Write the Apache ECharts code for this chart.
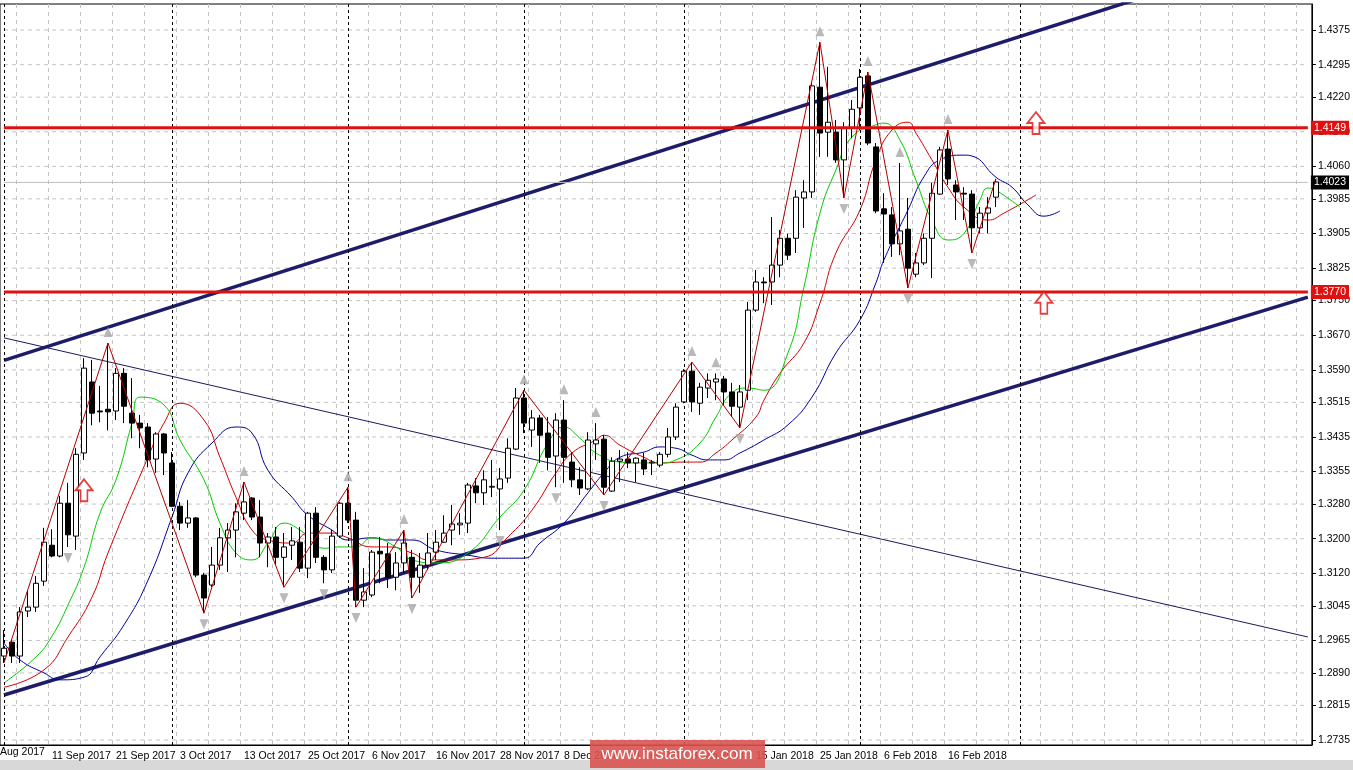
<!DOCTYPE html>
<html><head><meta charset="utf-8">
<script src="https://cdn.jsdelivr.net/npm/echarts@6/dist/echarts.min.js"></script>
<style>html,body{margin:0;padding:0;background:#fff}#c{width:1353px;height:770px}</style>
</head><body><div id="c"></div>
<script>
// ---- categories: trading days (31 Aug 2017 onward, 25 Dec / 1 Jan closed) ----
const MONTHS = ['Jan','Feb','Mar','Apr','May','Jun','Jul','Aug','Sep','Oct','Nov','Dec'];
const closedDays = ['2017-12-25','2018-01-01'];
const firstDay = '2017-08-31';
const slotCount = 164;
const categories = [];
(function(){const d=new Date(firstDay+'T00:00:00Z');while(categories.length<slotCount){const w=d.getUTCDay();const iso=d.toISOString().slice(0,10);if(w!==0&&w!==6&&closedDays.indexOf(iso)<0){categories.push(d.getUTCDate()+' '+MONTHS[d.getUTCMonth()]+' '+d.getUTCFullYear());}d.setUTCDate(d.getUTCDate()+1);}})();

// ---- daily candles [open, close, low, high] ----
const candles = [
[1.2929,1.2947,1.2913,1.2989],[1.2961,1.2929,1.2913,1.2966],[1.2929,1.3031,1.2913,1.3042],[1.3033,1.3042,1.3019,1.3081],
[1.3042,1.3097,1.3031,1.3114],[1.3102,1.3192,1.3091,1.3225],[1.3185,1.3160,1.3157,1.3222],[1.3160,1.3282,1.3157,1.3299],
[1.3282,1.3209,1.3181,1.3329],[1.3206,1.3395,1.3174,1.3409],[1.3398,1.3594,1.3382,1.3617],[1.3562,1.3490,1.3462,1.3613],
[1.3495,1.3493,1.3469,1.3553],[1.3499,1.3493,1.3450,1.3652],[1.3495,1.3582,1.3474,1.3594],[1.3582,1.3506,1.3467,1.3594],
[1.3490,1.3467,1.3432,1.3571],[1.3467,1.3456,1.3409,1.3486],[1.3458,1.3382,1.3365,1.3467],[1.3384,1.3442,1.3352,1.3446],
[1.3442,1.3398,1.3347,1.3444],[1.3375,1.3275,1.3273,1.3400],[1.3275,1.3236,1.3220,1.3285],[1.3236,1.3248,1.3225,1.3289],
[1.3248,1.3116,1.3111,1.3250],[1.3116,1.3063,1.3028,1.3121],[1.3093,1.3139,1.3088,1.3181],[1.3139,1.3202,1.3128,1.3225],
[1.3202,1.3220,1.3123,1.3236],[1.3220,1.3262,1.3157,1.3282],[1.3259,1.3285,1.3243,1.3331],[1.3294,1.3250,1.3243,1.3296],
[1.3250,1.3190,1.3157,1.3289],[1.3190,1.3204,1.3134,1.3213],[1.3204,1.3157,1.3139,1.3227],[1.3157,1.3181,1.3088,1.3213],
[1.3185,1.3195,1.3151,1.3227],[1.3192,1.3132,1.3123,1.3227],[1.3132,1.3259,1.3109,1.3262],[1.3259,1.3157,1.3144,1.3273],
[1.3157,1.3128,1.3097,1.3162],[1.3128,1.3206,1.3121,1.3220],[1.3206,1.3282,1.3202,1.3285],[1.3282,1.3243,1.3236,1.3319],
[1.3243,1.3058,1.3042,1.3262],[1.3058,1.3077,1.3042,1.3132],[1.3070,1.3169,1.3065,1.3174],[1.3171,1.3165,1.3097,1.3204],
[1.3165,1.3111,1.3086,1.3190],[1.3111,1.3144,1.3081,1.3169],[1.3144,1.3190,1.3121,1.3220],[1.3157,1.3111,1.3063,1.3174],
[1.3111,1.3139,1.3075,1.3167],[1.3139,1.3167,1.3128,1.3213],[1.3169,1.3192,1.3151,1.3220],[1.3192,1.3213,1.3190,1.3254],
[1.3220,1.3234,1.3185,1.3278],[1.3232,1.3236,1.3209,1.3259],[1.3236,1.3324,1.3213,1.3329],[1.3322,1.3306,1.3282,1.3340],
[1.3306,1.3336,1.3278,1.3358],[1.3319,1.3321,1.3296,1.3382],[1.3315,1.3338,1.3220,1.3363],[1.3340,1.3409,1.3329,1.3432],
[1.3407,1.3525,1.3405,1.3548],[1.3525,1.3467,1.3444,1.3543],[1.3451,1.3479,1.3412,1.3497],[1.3479,1.3439,1.3375,1.3486],
[1.3444,1.3388,1.3358,1.3481],[1.3391,1.3474,1.3319,1.3490],[1.3474,1.3388,1.3329,1.3520],[1.3377,1.3336,1.3319,1.3400],
[1.3336,1.3317,1.3301,1.3365],[1.3315,1.3428,1.3312,1.3446],[1.3419,1.3428,1.3382,1.3467],[1.3430,1.3319,1.3301,1.3439],
[1.3310,1.3379,1.3308,1.3388],[1.3379,1.3384,1.3331,1.3405],[1.3384,1.3375,1.3363,1.3400],[1.3375,1.3386,1.3331,1.3388],
[1.3382,1.3361,1.3347,1.3398],[1.3375,1.3377,1.3347,1.3382],[1.3370,1.3395,1.3365,1.3400],[1.3395,1.3435,1.3388,1.3456],
[1.3435,1.3504,1.3428,1.3513],[1.3516,1.3587,1.3513,1.3592],[1.3587,1.3516,1.3493,1.3608],[1.3513,1.3550,1.3486,1.3560],
[1.3548,1.3566,1.3525,1.3582],[1.3562,1.3569,1.3520,1.3582],[1.3569,1.3539,1.3509,1.3576],[1.3539,1.3506,1.3481,1.3560],
[1.3504,1.3539,1.3456,1.3555],[1.3543,1.3728,1.3520,1.3747],[1.3728,1.3793,1.3724,1.3821],[1.3793,1.3791,1.3744,1.3804],
[1.3793,1.3832,1.3740,1.3943],[1.3832,1.3894,1.3804,1.3913],[1.3894,1.3855,1.3844,1.3905],[1.3894,1.3989,1.3860,1.4005],
[1.3987,1.4001,1.3918,1.4028],[1.4001,1.4246,1.3987,1.4255],[1.4243,1.4137,1.4082,1.4347],[1.4139,1.4162,1.4082,1.4290],
[1.4139,1.4075,1.4068,1.4167],[1.4075,1.4149,1.3987,1.4162],[1.4149,1.4192,1.4125,1.4213],[1.4195,1.4266,1.4144,1.4285],
[1.4269,1.4114,1.4109,1.4278],[1.4105,1.3957,1.3952,1.4114],[1.3962,1.3950,1.3837,1.3998],[1.3948,1.3881,1.3851,1.3966],
[1.3881,1.3911,1.3855,1.4068],[1.3915,1.3825,1.3779,1.3987],[1.3811,1.3837,1.3804,1.3860],[1.3837,1.3894,1.3832,1.3905],
[1.3894,1.3998,1.3802,1.4022],[1.3996,1.4098,1.3994,1.4105],[1.4100,1.4031,1.4017,1.4144],[1.4017,1.4001,1.3936,1.4028],
[1.3998,1.3996,1.3936,1.4012],[1.3996,1.3918,1.3860,1.4005],[1.3918,1.3952,1.3905,1.3966],[1.3952,1.3964,1.3905,1.3989],
[1.3989,1.4024,1.3966,1.4031]
];

// ---- Alligator lines [bar index, price] ----
const lipsGreen = [[0,1.2867],[4,1.2927],[6,1.2975],[8,1.3047],[10,1.3134],[12,1.3259],[14,1.3336],[16,1.3467],[17,1.3527],[20,1.3509],[22,1.3428],[25,1.3336],[27,1.3236],[29,1.3167],[31,1.3151],[33,1.3190],[35,1.3236],[37,1.3220],[40,1.3178],[42,1.3181],[44,1.3181],[46,1.3202],[49,1.3181],[51,1.3151],[54,1.3144],[58,1.3167],[62,1.3250],[65,1.3312],[68,1.3421],[70,1.3458],[72,1.3432],[74,1.3398],[77,1.3377],[79,1.3375],[82,1.3375],[84,1.3382],[87,1.3421],[89,1.3481],[91,1.3537],[93,1.3548],[95,1.3543],[98,1.3629],[100,1.3781],[102,1.3952],[104,1.4052],[106,1.4128],[109,1.4156],[110,1.4160],[112,1.4121],[114,1.4028],[116,1.3936],[118,1.3890],[120,1.3905],[122,1.3982],[123,1.4010],[124,1.4005],[127,1.3966]];
const teethRed = [[0,1.2857],[5,1.2897],[8,1.2973],[11,1.3065],[13,1.3167],[18,1.3388],[20,1.3467],[22,1.3513],[25,1.3474],[27,1.3388],[29,1.3296],[31,1.3220],[33,1.3197],[36,1.3190],[38,1.3213],[41,1.3213],[43,1.3202],[46,1.3181],[48,1.3181],[51,1.3167],[53,1.3151],[56,1.3151],[60,1.3157],[63,1.3204],[66,1.3266],[69,1.3352],[71,1.3398],[74,1.3428],[75,1.3439],[77,1.3416],[80,1.3388],[82,1.3375],[85,1.3377],[87,1.3377],[89,1.3398],[91,1.3428],[94,1.3481],[95,1.3520],[97,1.3582],[100,1.3652],[102,1.3744],[104,1.3860],[107,1.3959],[109,1.4075],[111,1.4144],[113,1.4162],[114,1.4137],[116,1.4075],[118,1.4012],[120,1.3966],[123,1.3936],[125,1.3952],[129,1.3994]];
const jawBlue = [[0,1.2959],[2,1.2920],[5,1.2890],[7,1.2874],[10,1.2880],[12,1.2927],[15,1.3001],[18,1.3104],[21,1.3250],[23,1.3352],[26,1.3421],[29,1.3458],[31,1.3444],[33,1.3358],[36,1.3296],[38,1.3254],[41,1.3220],[43,1.3197],[46,1.3202],[48,1.3197],[51,1.3197],[54,1.3174],[58,1.3162],[61,1.3155],[65,1.3155],[67,1.3190],[70,1.3236],[73,1.3306],[75,1.3352],[77,1.3388],[80,1.3400],[82,1.3412],[84,1.3409],[86,1.3393],[88,1.3382],[90,1.3382],[92,1.3398],[95,1.3428],[98,1.3463],[101,1.3527],[104,1.3629],[107,1.3705],[109,1.3791],[110,1.3844],[113,1.3959],[115,1.4036],[117,1.4075],[120,1.4086],[121,1.4084],[124,1.4035],[126,1.4012],[128,1.3971],[130,1.3945],[132,1.3957]];

// ---- ZigZag pivots ----
const zigzag = [[0,1.2913],[13,1.3652],[25,1.3028],[30,1.3331],[35,1.3088],[43,1.3319],[44,1.3042],[50,1.3220],[51,1.3063],[65,1.3543],[75,1.3301],[86,1.3608],[92,1.3456],[102,1.4347],[105,1.3987],[108,1.4278],[113,1.3779],[118,1.4144],[121,1.3860],[124,1.4031]];

// ---- fractals ----
const fractalUp = [13,30,43,50,65,70,74,86,89,102,108,112,118];
const fractalDown = [8,25,35,40,44,51,62,69,75,92,105,113,121];

// ---- trend lines [bar index, price] ----
const channelUpper = [[0,1.3612],[163,1.4572]];
const channelLower = [[0,1.2839],[163,1.3758]];
const fallingLine = [[0,1.3664],[163,1.2973]];

// ---- levels / ticks ----
const levels = [1.4149, 1.3770];
const lastPrice = 1.4023;
const arrows = [[129,1.4160],[130,1.3745],[10,1.3312]];
const monthSeparators = [0,21,43,65,85,107,127];
const yTickLabels = ['1.4375','1.4295','1.4220','1.4140','1.4060','1.3985','1.3905','1.3825','1.3750','1.3670','1.3590','1.3515','1.3435','1.3355','1.3280','1.3200','1.3120','1.3045','1.2965','1.2890','1.2815','1.2735'];
const yTicks = yTickLabels.map(Number);

const FONT = 'Liberation Sans';
const LAST = slotCount - 1;
const chart = echarts.init(document.getElementById('c'));
const arrowPath = 'path://M5,0 L10,6 L7,6 L7,12 L3,12 L3,6 L0,6 Z';
const hLine = (v, style, z, label) => ({type:'line',data:[[0,v],[LAST,v]],symbol:'none',silent:true,z:z,lineStyle:style,
  endLabel: label ? Object.assign({show:true,distance:3,formatter:v.toFixed(4),color:'#fff',padding:[2,3,1,3],fontFamily:FONT,fontSize:10.5},label) : {show:false}});
const series = [];
yTicks.forEach(v => series.push(hLine(v,{color:'#c4c4c4',type:[4,4],width:1},1)));
series.push({type:'line',data:[],silent:true,
  markLine:{silent:true,symbol:'none',label:{show:false},animation:false,
    data:monthSeparators.map(i=>({xAxis:i,lineStyle:{color:'#000',type:[3,3],width:1}}))}});
series.push(
  {type:'line',data:fallingLine,symbol:'none',lineStyle:{color:'#1a1a5e',width:1},silent:true,z:3},
  {type:'line',data:channelUpper,symbol:'none',lineStyle:{color:'#1c1c6b',width:3.5},silent:true,z:3},
  {type:'line',data:channelLower,symbol:'none',lineStyle:{color:'#1c1c6b',width:3.5},silent:true,z:3},
  hLine(lastPrice,{color:'#bdbdbd',width:1},3,{backgroundColor:'#000'}),
  {type:'line',data:jawBlue,symbol:'none',smooth:0.5,lineStyle:{color:'#0000a0',width:1},z:4},
  {type:'line',data:teethRed,symbol:'none',smooth:0.5,lineStyle:{color:'#d00000',width:1},z:4},
  {type:'line',data:lipsGreen,symbol:'none',smooth:0.5,lineStyle:{color:'#00cc00',width:1},z:4},
  {type:'candlestick',data:candles,barWidth:5,z:5,
    itemStyle:{color:'#fff',color0:'#000',borderColor:'#000',borderColor0:'#000',borderWidth:1}},
  {type:'line',data:zigzag,symbol:'none',lineStyle:{color:'#b00000',width:1},z:6},
  {type:'scatter',data:fractalUp.map(i=>[i,candles[i][3]]),symbol:'triangle',symbolSize:[9,10],symbolOffset:[0,-11],itemStyle:{color:'#a8a8a8'},z:6},
  {type:'scatter',data:fractalDown.map(i=>[i,candles[i][2]]),symbol:'triangle',symbolRotate:180,symbolSize:[9,10],symbolOffset:[0,11],itemStyle:{color:'#a8a8a8'},z:6}
);
levels.forEach(v => series.push(hLine(v,{color:'#e01010',width:3},7,{backgroundColor:'#e01010'})));
series.push({type:'scatter',data:arrows,symbol:arrowPath,symbolSize:[17,22],itemStyle:{color:'#fff',borderColor:'#e01010',borderWidth:1.8},z:8});

const opt = {
  animation:false,
  backgroundColor:'#fff',
  grid:{left:-3,right:39,top:4,bottom:25,show:true,borderColor:'#000',borderWidth:1,backgroundColor:'transparent'},
  xAxis:{type:'category',data:categories,boundaryGap:true,
    axisLine:{lineStyle:{color:'#000'}},axisTick:{show:false},
    axisLabel:{interval:(i)=>i<=124&&(i-6)%8===0,formatter:(v,i)=>categories[i+1]||'',align:'left',color:'#000',fontFamily:FONT,fontSize:10.5,margin:6},
    splitLine:{show:true,interval:(i)=>(i-2)%4===0,lineStyle:{color:'#c4c4c4',type:[4,4],width:1}}},
  yAxis:{type:'value',position:'right',min:1.27235,max:1.44351,scale:true,
    axisLine:{show:true,lineStyle:{color:'#000'}},
    axisTick:{show:true,customValues:yTicks,length:4,lineStyle:{color:'#000'}},
    axisLabel:{customValues:yTicks,formatter:(v)=>{let b=0;for(let k=1;k<yTicks.length;k++)if(Math.abs(yTicks[k]-v)<Math.abs(yTicks[b]-v))b=k;return yTickLabels[b];},color:'#000',fontFamily:FONT,fontSize:10.5,margin:6},
    splitLine:{show:false}},
  series:series,
  graphic:[
    {type:'text',left:0,top:747,style:{text:'Aug 2017',fill:'#000',font:'10.5px "Liberation Sans"'}},
    {type:'rect',shape:{x:0,y:760,width:1353,height:10},style:{fill:'#d8d8d8'},z:0},
    {type:'rect',shape:{x:590,y:740,width:175,height:28},style:{fill:'#d9534f',opacity:0.9},z:100},
    {type:'text',x:677,y:754,style:{text:'www.instaforex.com',fill:'#fff',font:'17px "Liberation Sans"',align:'center',verticalAlign:'middle'},z:101}
  ]
};
chart.setOption(opt);
</script></body></html>
